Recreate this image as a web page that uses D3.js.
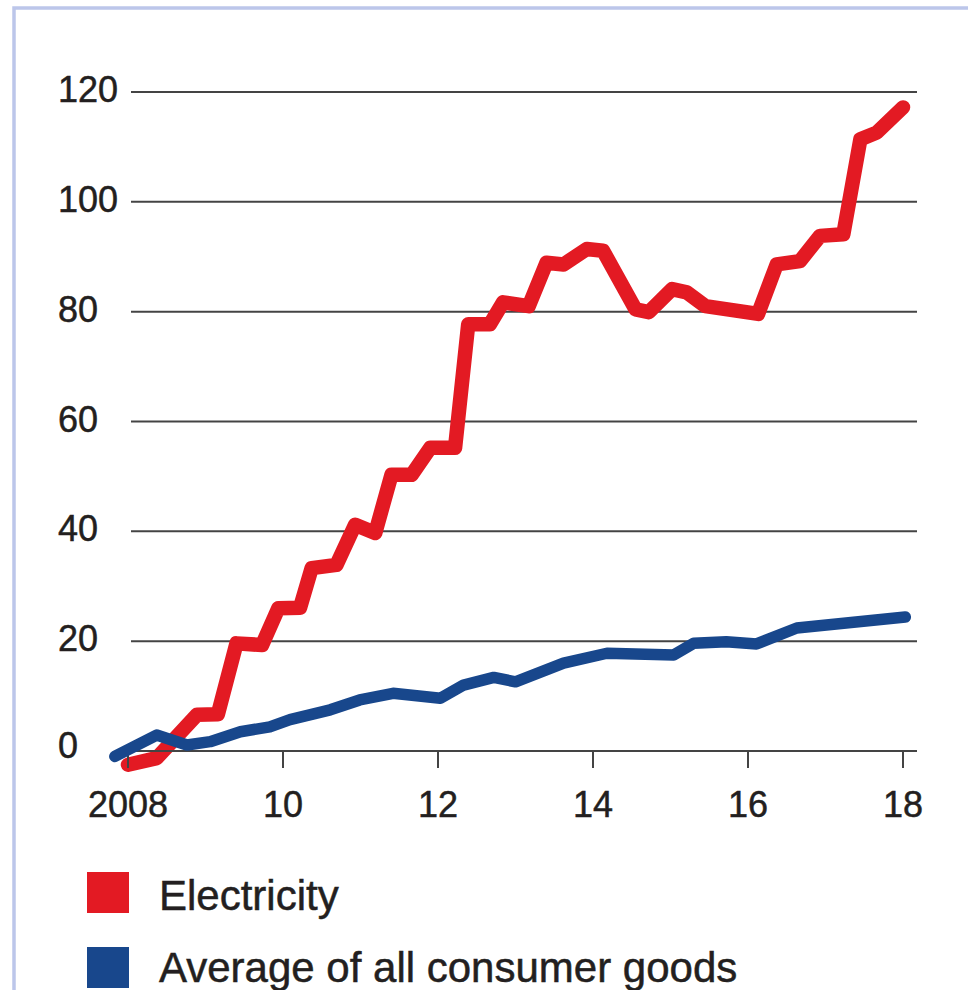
<!DOCTYPE html>
<html>
<head>
<meta charset="utf-8">
<script src="https://cdn.jsdelivr.net/npm/d3@7"></script>
<style>
  html, body { margin: 0; padding: 0; background: #fff; }
  text { font-family: "Liberation Sans", Arial, Helvetica, sans-serif; fill: #231f20; stroke: #231f20; stroke-width: 0.5; }
</style>
</head>
<body>
<svg id="chart"></svg>
<script>
// price index, % change since 2008

var yTicks = [0, 20, 40, 60, 80, 100, 120];
var xTicks = [2008, 2010, 2012, 2014, 2016, 2018];
var xTickLabels = ["2008", "10", "12", "14", "16", "18"];

var seriesNames = ["Electricity", "Average of all consumer goods"];
var seriesColors = ["#e31a23", "#18478c"];

// Electricity
var elecDates = [2008.0, 2008.37, 2008.89, 2009.16, 2009.40, 2009.73, 2009.94, 2010.22,
  2010.37, 2010.69, 2010.93, 2011.19, 2011.40, 2011.66, 2011.90, 2012.22, 2012.39,
  2012.67, 2012.84, 2013.17, 2013.40, 2013.62, 2013.92, 2014.13, 2014.55, 2014.72,
  2015.02, 2015.21, 2015.45, 2016.13, 2016.37, 2016.67, 2016.93, 2017.23, 2017.45,
  2017.66, 2018.0];
var elecValues = [-2.5, -1.3, 6.6, 6.7, 19.6, 19.3, 26.0, 26.1,
  33.3, 33.9, 41.2, 39.7, 50.3, 50.3, 55.2, 55.2, 77.7,
  77.7, 81.7, 81.0, 88.9, 88.6, 91.4, 91.1, 80.4, 79.9,
  84.1, 83.5, 81.0, 79.6, 88.6, 89.2, 93.8, 94.1, 111.4,
  112.6, 117.2];

// Average of all consumer goods
var cgDates = [2007.83, 2008.37, 2008.76, 2009.06, 2009.45, 2009.83, 2010.09, 2010.61,
  2010.99, 2011.42, 2012.03, 2012.33, 2012.72, 2013.0, 2013.62, 2014.18, 2015.04,
  2015.30, 2015.72, 2016.11, 2016.63, 2018.03];
var cgValues = [-1.0, 2.9, 1.1, 1.7, 3.5, 4.4, 5.7, 7.5,
  9.3, 10.5, 9.6, 12.0, 13.4, 12.6, 16.0, 17.8, 17.5,
  19.6, 19.9, 19.5, 22.4, 24.4];

//画布大小
var width = 968, height = 990;
var plot = {left: 128, right: 903, top: 92, bottom: 751, gridLeft: 131, gridRight: 917};

var svg = d3.select("#chart")
  .attr("width", width)
  .attr("height", height)
  .attr("viewBox", "0 0 " + width + " " + height);

var x = d3.scaleLinear().domain([2008, 2018]).range([plot.left, plot.right]);
var y = d3.scaleLinear().domain([0, 120]).range([plot.bottom, plot.top]);

// frame (only top and left edges show)
svg.append("path")
  .attr("d", "M14," + height + " V8 H" + width)
  .attr("fill", "none")
  .attr("stroke", "#bcc6ea")
  .attr("stroke-width", 3.5);

// gridlines
svg.append("g").selectAll("line")
  .data(yTicks.filter(function(d){ return d > 0; }))
  .enter().append("line")
  .attr("x1", plot.gridLeft)
  .attr("x2", plot.gridRight)
  .attr("y1", function(d){ return y(d); })
  .attr("y2", function(d){ return y(d); })
  .attr("stroke", "#444")
  .attr("stroke-width", 2);

// y labels, left aligned
svg.append("g").selectAll("text")
  .data(yTicks)
  .enter().append("text")
  .attr("x", 58)
  .attr("y", function(d){ return y(d) + (d === 0 ? 7 : 10); })
  .attr("font-size", 36)
  .text(function(d){ return d; });

var line = d3.line()
  .x(function(d){ return x(d[0]); })
  .y(function(d){ return y(d[1]); });

var elecData = d3.zip(elecDates, elecValues);
var cgData = d3.zip(cgDates, cgValues);

svg.append("path")
  .datum(elecData)
  .attr("d", line)
  .attr("fill", "none")
  .attr("stroke", seriesColors[0])
  .attr("stroke-width", 14.5)
  .attr("stroke-linejoin", "round")
  .attr("stroke-linecap", "round");

// baseline + ticks, sits over the red line
var axis = svg.append("g");
axis.append("line")
  .attr("x1", plot.left)
  .attr("x2", plot.gridRight)
  .attr("y1", y(0))
  .attr("y2", y(0))
  .attr("stroke", "#444")
  .attr("stroke-width", 2);
axis.selectAll(".tick")
  .data(xTicks)
  .enter().append("line")
  .attr("class", "tick")
  .attr("x1", function(d){ return x(d); })
  .attr("x2", function(d){ return x(d); })
  .attr("y1", y(0))
  .attr("y2", y(0) + 17)
  .attr("stroke", "#444")
  .attr("stroke-width", 2);
axis.selectAll(".lbl")
  .data(xTicks)
  .enter().append("text")
  .attr("class", "lbl")
  .attr("x", function(d){ return x(d); })
  .attr("y", 817)
  .attr("text-anchor", "middle")
  .attr("font-size", 36)
  .text(function(d, i){ return xTickLabels[i]; });

svg.append("path")
  .datum(cgData)
  .attr("d", line)
  .attr("fill", "none")
  .attr("stroke", seriesColors[1])
  .attr("stroke-width", 11.5)
  .attr("stroke-linejoin", "round")
  .attr("stroke-linecap", "round");

// legend
var legend = svg.append("g").selectAll("g")
  .data(seriesNames)
  .enter().append("g")
  .attr("transform", function(d, i){ return "translate(87," + (872 + i * 75) + ")"; });
legend.append("rect")
  .attr("width", 42)
  .attr("height", 41)
  .attr("fill", function(d, i){ return seriesColors[i]; });
legend.append("text")
  .attr("x", 72)
  .attr("y", function(d, i){ return i === 0 ? 38 : 35; })
  .attr("font-size", 42)
  .text(function(d){ return d; });
</script>
</body>
</html>
